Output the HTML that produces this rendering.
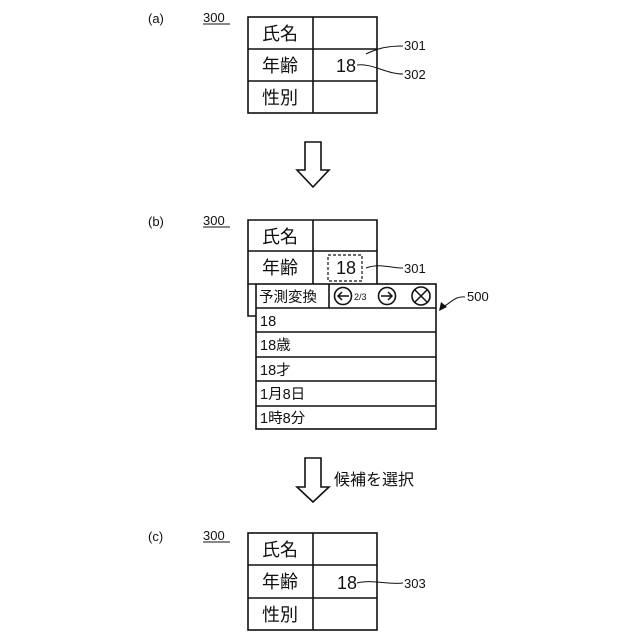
<!DOCTYPE html>
<html><head><meta charset="utf-8"><style>
html,body{margin:0;padding:0;background:#fff}
svg{display:block}
text{font-family:"Liberation Sans","Noto Sans CJK JP",sans-serif;fill:#111}
</style></head><body>
<svg width="640" height="640" viewBox="0 0 640 640" xmlns="http://www.w3.org/2000/svg">
<g fill="none" stroke="#111" stroke-width="1.6">
 <!-- table a -->
 <rect x="248" y="17" width="129" height="96"/>
 <line x1="313" y1="17" x2="313" y2="113"/>
 <line x1="248" y1="49" x2="377" y2="49"/>
 <line x1="248" y1="81" x2="377" y2="81"/>
 <!-- table b -->
 <polyline points="256,284 248,284 248,220 377,220 377,284"/>
 <line x1="313" y1="220" x2="313" y2="284"/>
 <line x1="248" y1="251" x2="377" y2="251"/>
 <polyline points="248,284 248,316 256,316"/>
 <rect x="256" y="284" width="180" height="145"/>
 <line x1="256" y1="308" x2="436" y2="308"/>
 <line x1="256" y1="332" x2="436" y2="332"/>
 <line x1="256" y1="357" x2="436" y2="357"/>
 <line x1="256" y1="381" x2="436" y2="381"/>
 <line x1="256" y1="406" x2="436" y2="406"/>
 <line x1="329" y1="284" x2="329" y2="308"/>
 <rect x="328" y="255" width="34" height="26" stroke-dasharray="3,2" stroke-width="1.2"/>
 <!-- table c -->
 <rect x="248" y="533" width="129" height="97"/>
 <line x1="313" y1="533" x2="313" y2="630"/>
 <line x1="248" y1="565" x2="377" y2="565"/>
 <line x1="248" y1="598" x2="377" y2="598"/>
 <!-- arrows -->
 <polygon points="305,142 321,142 321,170 329,170 313,187 297,170 305,170"/>
 <polygon points="305,458 321,458 321,487 329,487 313,502 297,487 305,487"/>
 <!-- icons -->
 <circle cx="343" cy="296" r="8.5"/>
 <path d="M349,296 H339 M342,292 L338,296 L342,300" stroke-width="1.5"/>
 <circle cx="387" cy="296" r="8.5"/>
 <path d="M381,296 H391 M388,292 L392,296 L388,300" stroke-width="1.5"/>
 <circle cx="421" cy="296" r="9"/>
 <path d="M415,290 L427,302 M427,290 L415,302" stroke-width="1.5"/>
 <!-- leaders -->
 <path d="M366,54 C378,48 388,46 403,46" stroke-width="1"/>
 <path d="M357,65 C372,63 386,74 403,74" stroke-width="1"/>
 <path d="M366,268 C380,263 390,268 403,268" stroke-width="1"/>
 <path d="M357,583 C372,579 388,585 403,583" stroke-width="1"/>
 <path d="M465,297 C455,296 452,302 443,307" stroke-width="1"/>
 <!-- underlines -->
 <line x1="203" y1="24" x2="230" y2="24" stroke-width="1"/>
 <line x1="203" y1="227" x2="230" y2="227" stroke-width="1"/>
 <line x1="203" y1="542" x2="230" y2="542" stroke-width="1"/>
</g>
<polygon points="439,311 441,302 447,307" fill="#111"/>
<g font-size="13">
 <text x="148" y="23">(a)</text><text x="203" y="22">300</text>
 <text x="148" y="226">(b)</text><text x="203" y="225">300</text>
 <text x="148" y="541">(c)</text><text x="203" y="540">300</text>
 <text x="404" y="50">301</text><text x="404" y="79">302</text>
 <text x="404" y="273">301</text><text x="467" y="301">500</text>
 <text x="404" y="588">303</text>
</g>
<g font-size="18">
 <text x="262" y="40">氏名</text><text x="262" y="72">年齢</text><text x="262" y="104">性別</text>
 <text x="262" y="243">氏名</text><text x="262" y="274">年齢</text>
 <text x="262" y="556">氏名</text><text x="262" y="588">年齢</text><text x="262" y="621">性別</text>
 <text x="336" y="72" font-weight="300" transform="scale(1,1)">18</text>
 <text x="336" y="274">18</text>
 <text x="337" y="589">18</text>
</g>
<g font-size="14.5">
 <text x="259" y="302">予測変換</text>
 <text x="260" y="326">18</text>
 <text x="260" y="350">18歳</text>
 <text x="260" y="375">18才</text>
 <text x="260" y="399">1月8日</text>
 <text x="260" y="423">1時8分</text>
 <text x="334" y="485" font-size="16">候補を選択</text>
</g>
<text x="354" y="300" font-size="9">2/3</text>
</svg>
</body></html>
